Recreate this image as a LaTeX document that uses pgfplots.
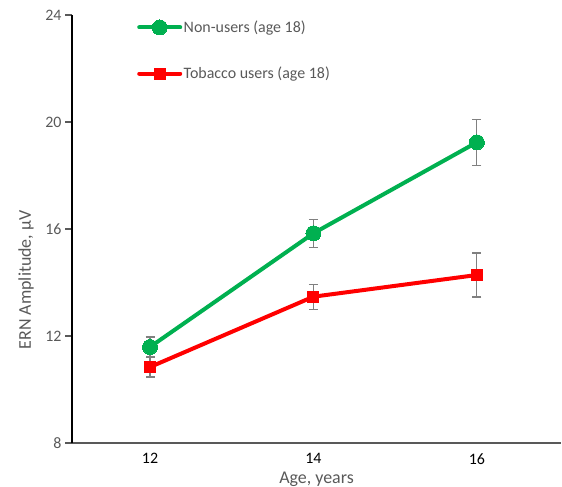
\documentclass[border=0pt]{standalone}
\usepackage{pgfplots}
\pgfplotsset{compat=1.18}
\usepackage{fontspec}
\setmainfont{Carlito}
\definecolor{cgreen}{HTML}{00B050}
\definecolor{cred}{HTML}{FF0000}
\definecolor{cgray}{HTML}{595959}
\definecolor{cerr}{HTML}{808080}
\begin{document}
\begin{tikzpicture}
\useasboundingbox (-72bp,-44bp) rectangle (490bp,443bp);
\begin{axis}[
  at={(0,0)}, anchor=south west, scale only axis,
  width=489bp, height=428bp,
  xmin=11.045, xmax=17.03, ymin=8, ymax=24,
  axis x line=bottom, axis y line=left,
  axis line style={-},
  x axis line style={cgray, line width=1.5bp},
  y axis line style={black, line width=1.2bp},
  xtick={12,14,16}, ytick={8,12,16,20,24},
  tick align=outside,
  major tick length=7bp,
  xtick style={draw=none},
  ytick style={cgray, line width=1.2bp},
  ticklabel style={font=\fontsize{16}{19}\selectfont},
  yticklabel style={text=cgray},
  xticklabel style={text=black},
  /pgf/number format/assume math mode=true,
  xlabel={Age, years},
  ylabel={ERN Amplitude, μV},
  xlabel style={font=\fontsize{18}{22}\selectfont, text=cgray, yshift=-1bp},
  every axis y label/.style={at={(axis description cs:-0.094,0.381)}, rotate=90, anchor=center,
    font=\fontsize{18}{22}\selectfont, text=cgray},
  legend style={draw=none, fill=none, at={(axis description cs:0.133,0.917)}, anchor=west,
    row sep=29bp, inner sep=0pt, cells={anchor=west}, nodes={inner xsep=1.5bp},
    font=\fontsize{16}{19}\selectfont, text=cgray},
  legend image code/.code={\draw[mark repeat=2,mark phase=2,line cap=round,#1] plot coordinates {(0bp,0bp)(20.5bp,0bp)(41bp,0bp)};},
  error bars/error bar style={cerr, line width=1.2bp},
  error bars/error mark options={rotate=90, mark size=4.5bp, cerr, line width=1.2bp},
]
\addplot[cgreen, line width=4bp, mark=*, mark size=7.5bp, mark options={solid, fill=cgreen, draw=cgreen, line width=0bp},
  error bars/.cd, y dir=both, y explicit]
  coordinates {(12,11.59) +- (0,0.37) (14,15.84) +- (0,0.52) (16,19.24) +- (0,0.86)};
\addlegendentry{Non-users (age 18)}
\addplot[cred, line width=4bp, mark=square*, mark size=5.5bp, mark options={solid, fill=cred, draw=cred, line width=0bp},
  error bars/.cd, y dir=both, y explicit]
  coordinates {(12,10.84) +- (0,0.37) (14,13.47) +- (0,0.47) (16,14.28) +- (0,0.82)};
\addlegendentry{Tobacco users (age 18)}
\end{axis}
\end{tikzpicture}
\end{document}
